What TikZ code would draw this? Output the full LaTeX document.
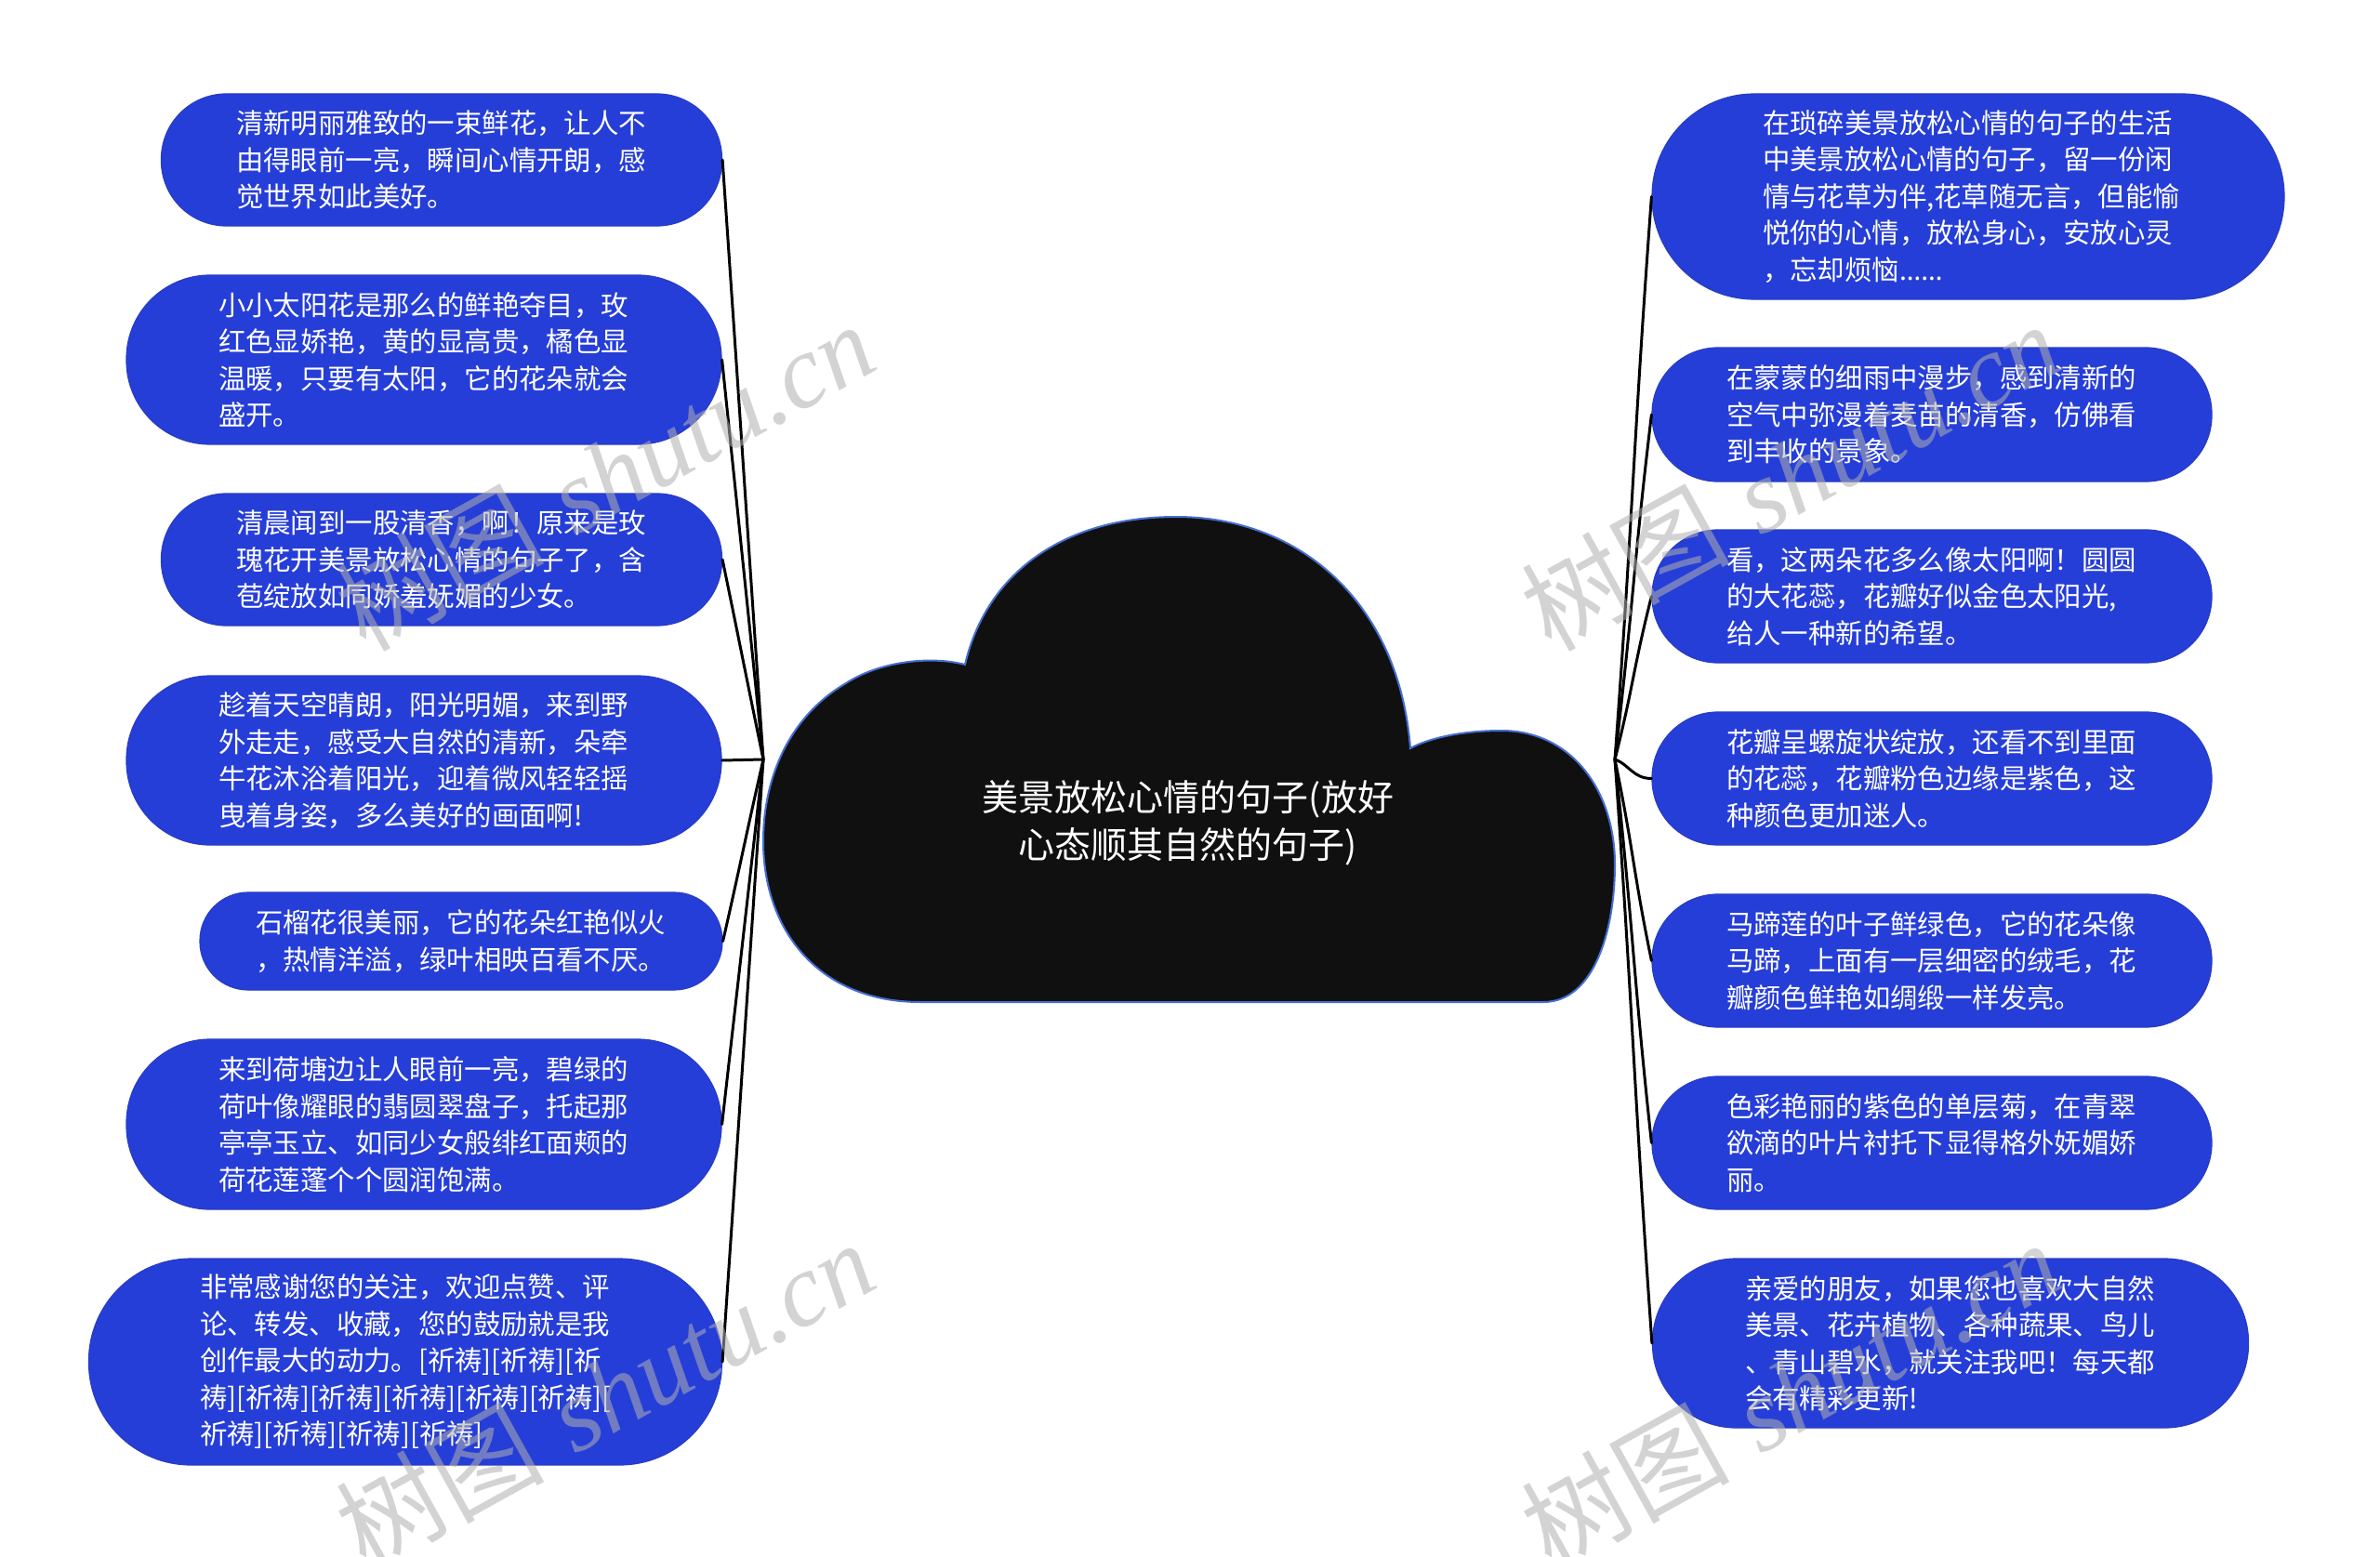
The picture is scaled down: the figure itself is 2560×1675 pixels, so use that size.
\documentclass[tikz,border=0pt]{standalone}
\usepackage{fontspec}
\newfontfamily\cjk{Noto Sans CJK SC}
\newfontfamily\latsans{Noto Sans}
\newfontfamily\wmlat{Liberation Serif}
\definecolor{bubfill}{RGB}{38,62,216}
\definecolor{bubline}{RGB}{40,60,196}
\definecolor{cloudfill}{RGB}{16,16,16}
\definecolor{cloudline}{RGB}{70,110,210}
\definecolor{wmcol}{RGB}{175,175,175}
\begin{document}
\begin{tikzpicture}[x=1pt,y=-1pt,
  bubble/.style={draw=bubline, line width=1.2pt, fill=bubfill, text=white,
    font=\cjk\fontsize{29.4}{39.5}\selectfont, align=left, text width=442pt, inner sep=0pt},
  link/.style={draw=black, line width=3pt, line cap=round},
  wmark/.style={text=wmcol, opacity=0.55, rotate=29, inner sep=0pt},
  titletext/.style={text=white, align=center, font=\cjk\fontsize{39}{51}\selectfont}
]
\useasboundingbox (0,0) rectangle (2560,1675);
\fill[white] (0,0) rectangle (2560,1675);

% cloud
\path[fill=cloudfill, draw=cloudline, line width=2pt]
 (990,1078) -- (1660,1078)
 .. controls (1715,1078) and (1737,1000) .. (1737,930)
 .. controls (1737,850) and (1690,786) .. (1615,786)
 .. controls (1570,786) and (1535,795) .. (1517,805)
 .. controls (1505,650) and (1400,556) .. (1265,556)
 .. controls (1140,556) and (1060,620) .. (1038,715)
 .. controls (1000,705) and (945,712) .. (910,735)
 .. controls (850,770) and (821,835) .. (821,905)
 .. controls (821,1000) and (880,1078) .. (990,1078) -- cycle;
\node[titletext] (title) at (1278,885) {美景放松心情的句子(放好\\心态顺其自然的句子)};
\coordinate (rootL) at (821,817);
\coordinate (rootR) at (1737,817);

% left nodes
\node[bubble, minimum width=603pt, minimum height=142pt, rounded corners=70pt] (L1) at (475,172)
 {清新明丽雅致的一束鲜花，让人不\\由得眼前一亮，瞬间心情开朗，感\\觉世界如此美好。};
\node[bubble, minimum width=640pt, minimum height=182pt, rounded corners=90pt] (L2) at (456,387)
 {小小太阳花是那么的鲜艳夺目，玫\\红色显娇艳，黄的显高贵，橘色显\\温暖，只要有太阳，它的花朵就会\\盛开。};
\node[bubble, minimum width=603pt, minimum height=142pt, rounded corners=70pt] (L3) at (475,602)
 {清晨闻到一股清香，啊！原来是玫\\瑰花开美景放松心情的句子了，含\\苞绽放如同娇羞妩媚的少女。};
\node[bubble, minimum width=640pt, minimum height=182pt, rounded corners=90pt] (L4) at (456,818)
 {趁着天空晴朗，阳光明媚，来到野\\外走走，感受大自然的清新，朵牵\\牛花沐浴着阳光，迎着微风轻轻摇\\曳着身姿，多么美好的画面啊!};
\node[bubble, minimum width=562pt, minimum height=105pt, rounded corners=52pt] (L5) at (496,1012.5)
 {石榴花很美丽，它的花朵红艳似火\\，热情洋溢，绿叶相映百看不厌。};
\node[bubble, minimum width=640pt, minimum height=183pt, rounded corners=90pt] (L6) at (456,1209.5)
 {来到荷塘边让人眼前一亮，碧绿的\\荷叶像耀眼的翡圆翠盘子，托起那\\亭亭玉立、如同少女般绯红面颊的\\荷花莲蓬个个圆润饱满。};
\node[bubble, minimum width=681pt, minimum height=222pt, rounded corners=110pt] (L7) at (436,1465)
 {非常感谢您的关注，欢迎点赞、评\\论、转发、收藏，您的鼓励就是我\\创作最大的动力。[祈祷][祈祷][祈\\祷][祈祷][祈祷][祈祷][祈祷][祈祷][\\祈祷][祈祷][祈祷][祈祷]};

% right nodes
\node[bubble, minimum width=680pt, minimum height=221pt, rounded corners=110pt] (R1) at (2117,211.5)
 {在琐碎美景放松心情的句子的生活\\中美景放松心情的句子，留一份闲\\情与花草为伴,花草随无言，但能愉\\悦你的心情，放松身心，安放心灵\\，忘却烦恼{\latsans ……}};
\node[bubble, minimum width=602pt, minimum height=144pt, rounded corners=71pt] (R2) at (2078,446)
 {在蒙蒙的细雨中漫步，感到清新的\\空气中弥漫着麦苗的清香，仿佛看\\到丰收的景象。};
\node[bubble, minimum width=602pt, minimum height=143pt, rounded corners=71pt] (R3) at (2078,641.5)
 {看，这两朵花多么像太阳啊！圆圆\\的大花蕊，花瓣好似金色太阳光,\\给人一种新的希望。};
\node[bubble, minimum width=602pt, minimum height=143pt, rounded corners=71pt] (R4) at (2078,837.5)
 {花瓣呈螺旋状绽放，还看不到里面\\的花蕊，花瓣粉色边缘是紫色，这\\种颜色更加迷人。};
\node[bubble, minimum width=602pt, minimum height=143pt, rounded corners=71pt] (R5) at (2078,1033.5)
 {马蹄莲的叶子鲜绿色，它的花朵像\\马蹄，上面有一层细密的绒毛，花\\瓣颜色鲜艳如绸缎一样发亮。};
\node[bubble, minimum width=602pt, minimum height=143pt, rounded corners=71pt] (R6) at (2078,1229.5)
 {色彩艳丽的紫色的单层菊，在青翠\\欲滴的叶片衬托下显得格外妩媚娇\\丽。};
\node[bubble, minimum width=641pt, minimum height=182pt, rounded corners=90pt] (R7) at (2098,1445)
 {亲爱的朋友，如果您也喜欢大自然\\美景、花卉植物、各种蔬果、鸟儿\\、青山碧水，就关注我吧！每天都\\会有精彩更新!};

% connectors
\draw[link] (rootL) .. controls +(-20,-290) and +(20,290) .. (L1.east);
\draw[link] (rootL) .. controls +(-20,-194) and +(20,194) .. (L2.east);
\draw[link] (rootL) .. controls +(-20,-97) and +(20,97) .. (L3.east);
\draw[link] (rootL) -- (L4.east);
\draw[link] (rootL) .. controls +(-20,88) and +(20,-88) .. (L5.east);
\draw[link] (rootL) .. controls +(-20,177) and +(20,-177) .. (L6.east);
\draw[link] (rootL) .. controls +(-20,292) and +(20,-292) .. (L7.east);
\draw[link] (rootR) .. controls +(20,-273) and +(-20,273) .. (R1.west);
\draw[link] (rootR) .. controls +(20,-167) and +(-20,167) .. (R2.west);
\draw[link] (rootR) .. controls +(20,-79) and +(-20,79) .. (R3.west);
\draw[link] (rootR) .. controls +(15,5) and +(-20,0) .. (R4.west);
\draw[link] (rootR) .. controls +(20,97) and +(-20,-97) .. (R5.west);
\draw[link] (rootR) .. controls +(20,185) and +(-20,-185) .. (R6.west);
\draw[link] (rootR) .. controls +(20,283) and +(-20,-283) .. (R7.west);

% watermarks
\node[wmark] (wm1) at (650,512) {\fontsize{112}{112}\selectfont{\cjk 树图} {\wmlat\itshape shutu.cn}};
\node[wmark] (wm2) at (1925,512) {\fontsize{112}{112}\selectfont{\cjk 树图} {\wmlat\itshape shutu.cn}};
\node[wmark] (wm3) at (650,1500) {\fontsize{112}{112}\selectfont{\cjk 树图} {\wmlat\itshape shutu.cn}};
\node[wmark] (wm4) at (1925,1500) {\fontsize{112}{112}\selectfont{\cjk 树图} {\wmlat\itshape shutu.cn}};
\end{tikzpicture}
\end{document}
